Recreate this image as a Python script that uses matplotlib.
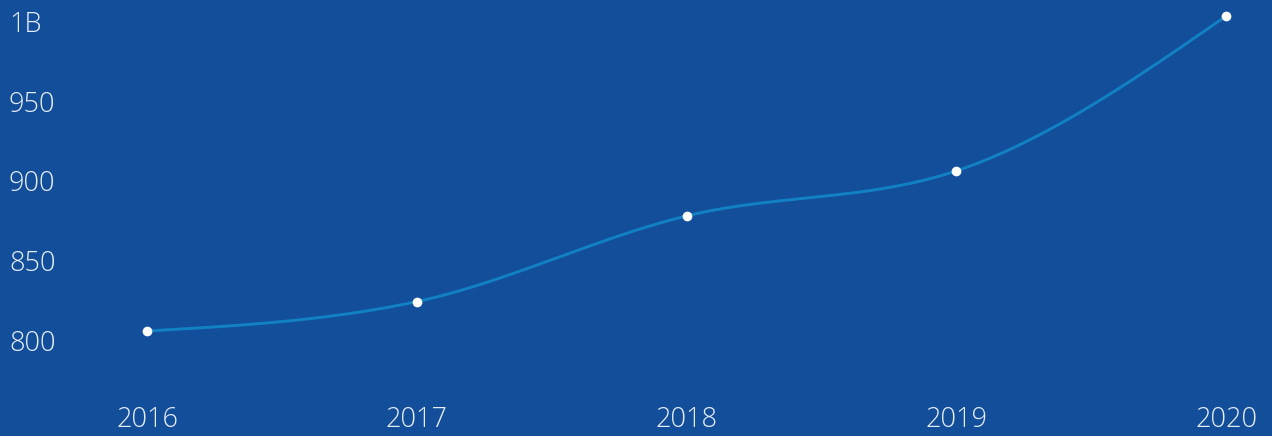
import numpy as np
import matplotlib.pyplot as plt

# valeurs (millions)
annees = [2016, 2017, 2018, 2019, 2020]
valeurs = [806.7, 825.1, 878.8, 907.0, 1004.0]
y_ticks = [800, 850, 900, 950, 1000]
y_labels = ["800", "850", "900", "950", "1B"]

fond = '#134e9a'
trait = '#1181c4'
texte = '#e6eef8'


# interpolation monotone (type d3 curveMonotoneX)
def monotone(x, y, n=60):
    x = np.asarray(x, float)
    y = np.asarray(y, float)
    h = np.diff(x)
    s = np.diff(y) / h
    t = np.zeros(len(x))
    for i in range(1, len(x) - 1):
        if s[i-1] * s[i] <= 0:
            t[i] = 0
        else:
            p = (s[i-1] * h[i] + s[i] * h[i-1]) / (h[i-1] + h[i])
            t[i] = (np.sign(s[i-1]) + np.sign(s[i])) * min(abs(s[i-1]), abs(s[i]), 0.5 * abs(p))
    t[0] = (3 * s[0] - t[1]) / 2
    t[-1] = (3 * s[-1] - t[-2]) / 2
    xs, ys = [], []
    for i in range(len(x) - 1):
        u = np.linspace(0, 1, n)
        h00 = 2*u**3 - 3*u**2 + 1
        h10 = u**3 - 2*u**2 + u
        h01 = -2*u**3 + 3*u**2
        h11 = u**3 - u**2
        xs.extend(x[i] + u * h[i])
        ys.extend(h00*y[i] + h10*h[i]*t[i] + h01*y[i+1] + h11*h[i]*t[i+1])
    return np.array(xs), np.array(ys)


plt.rcParams['font.family'] = ['Open Sans', 'DejaVu Sans']

fig = plt.figure(figsize=(12.72, 4.36), dpi=100, facecolor=fond)
ax = fig.add_axes([0, 0, 1, 1])
ax.set_facecolor(fond)
ax.set_xlim(2015.455, 2020.1705)
ax.set_ylim(740.9, 1014.1)
ax.axis('off')

xs, ys = monotone(annees, valeurs)
ax.plot(xs, ys, color=trait, lw=2.1, zorder=2)
ax.plot(annees, valeurs, 'o', color='white', ms=7, mec='none', zorder=3)

for v, lab in zip(y_ticks, y_labels):
    ax.text(0.007, v - 1.4, lab, transform=ax.get_yaxis_transform(), ha='left', va='center',
            color=texte, fontsize=19.5, fontweight='light')

# libellés des années en bas du graphique
for a in annees:
    ax.text(a, 0.037, str(a), transform=ax.get_xaxis_transform(),
            ha='center', va='center', color=texte, fontsize=19.5, fontweight='light')

fig.savefig('out.png', dpi=100, facecolor=fond)
